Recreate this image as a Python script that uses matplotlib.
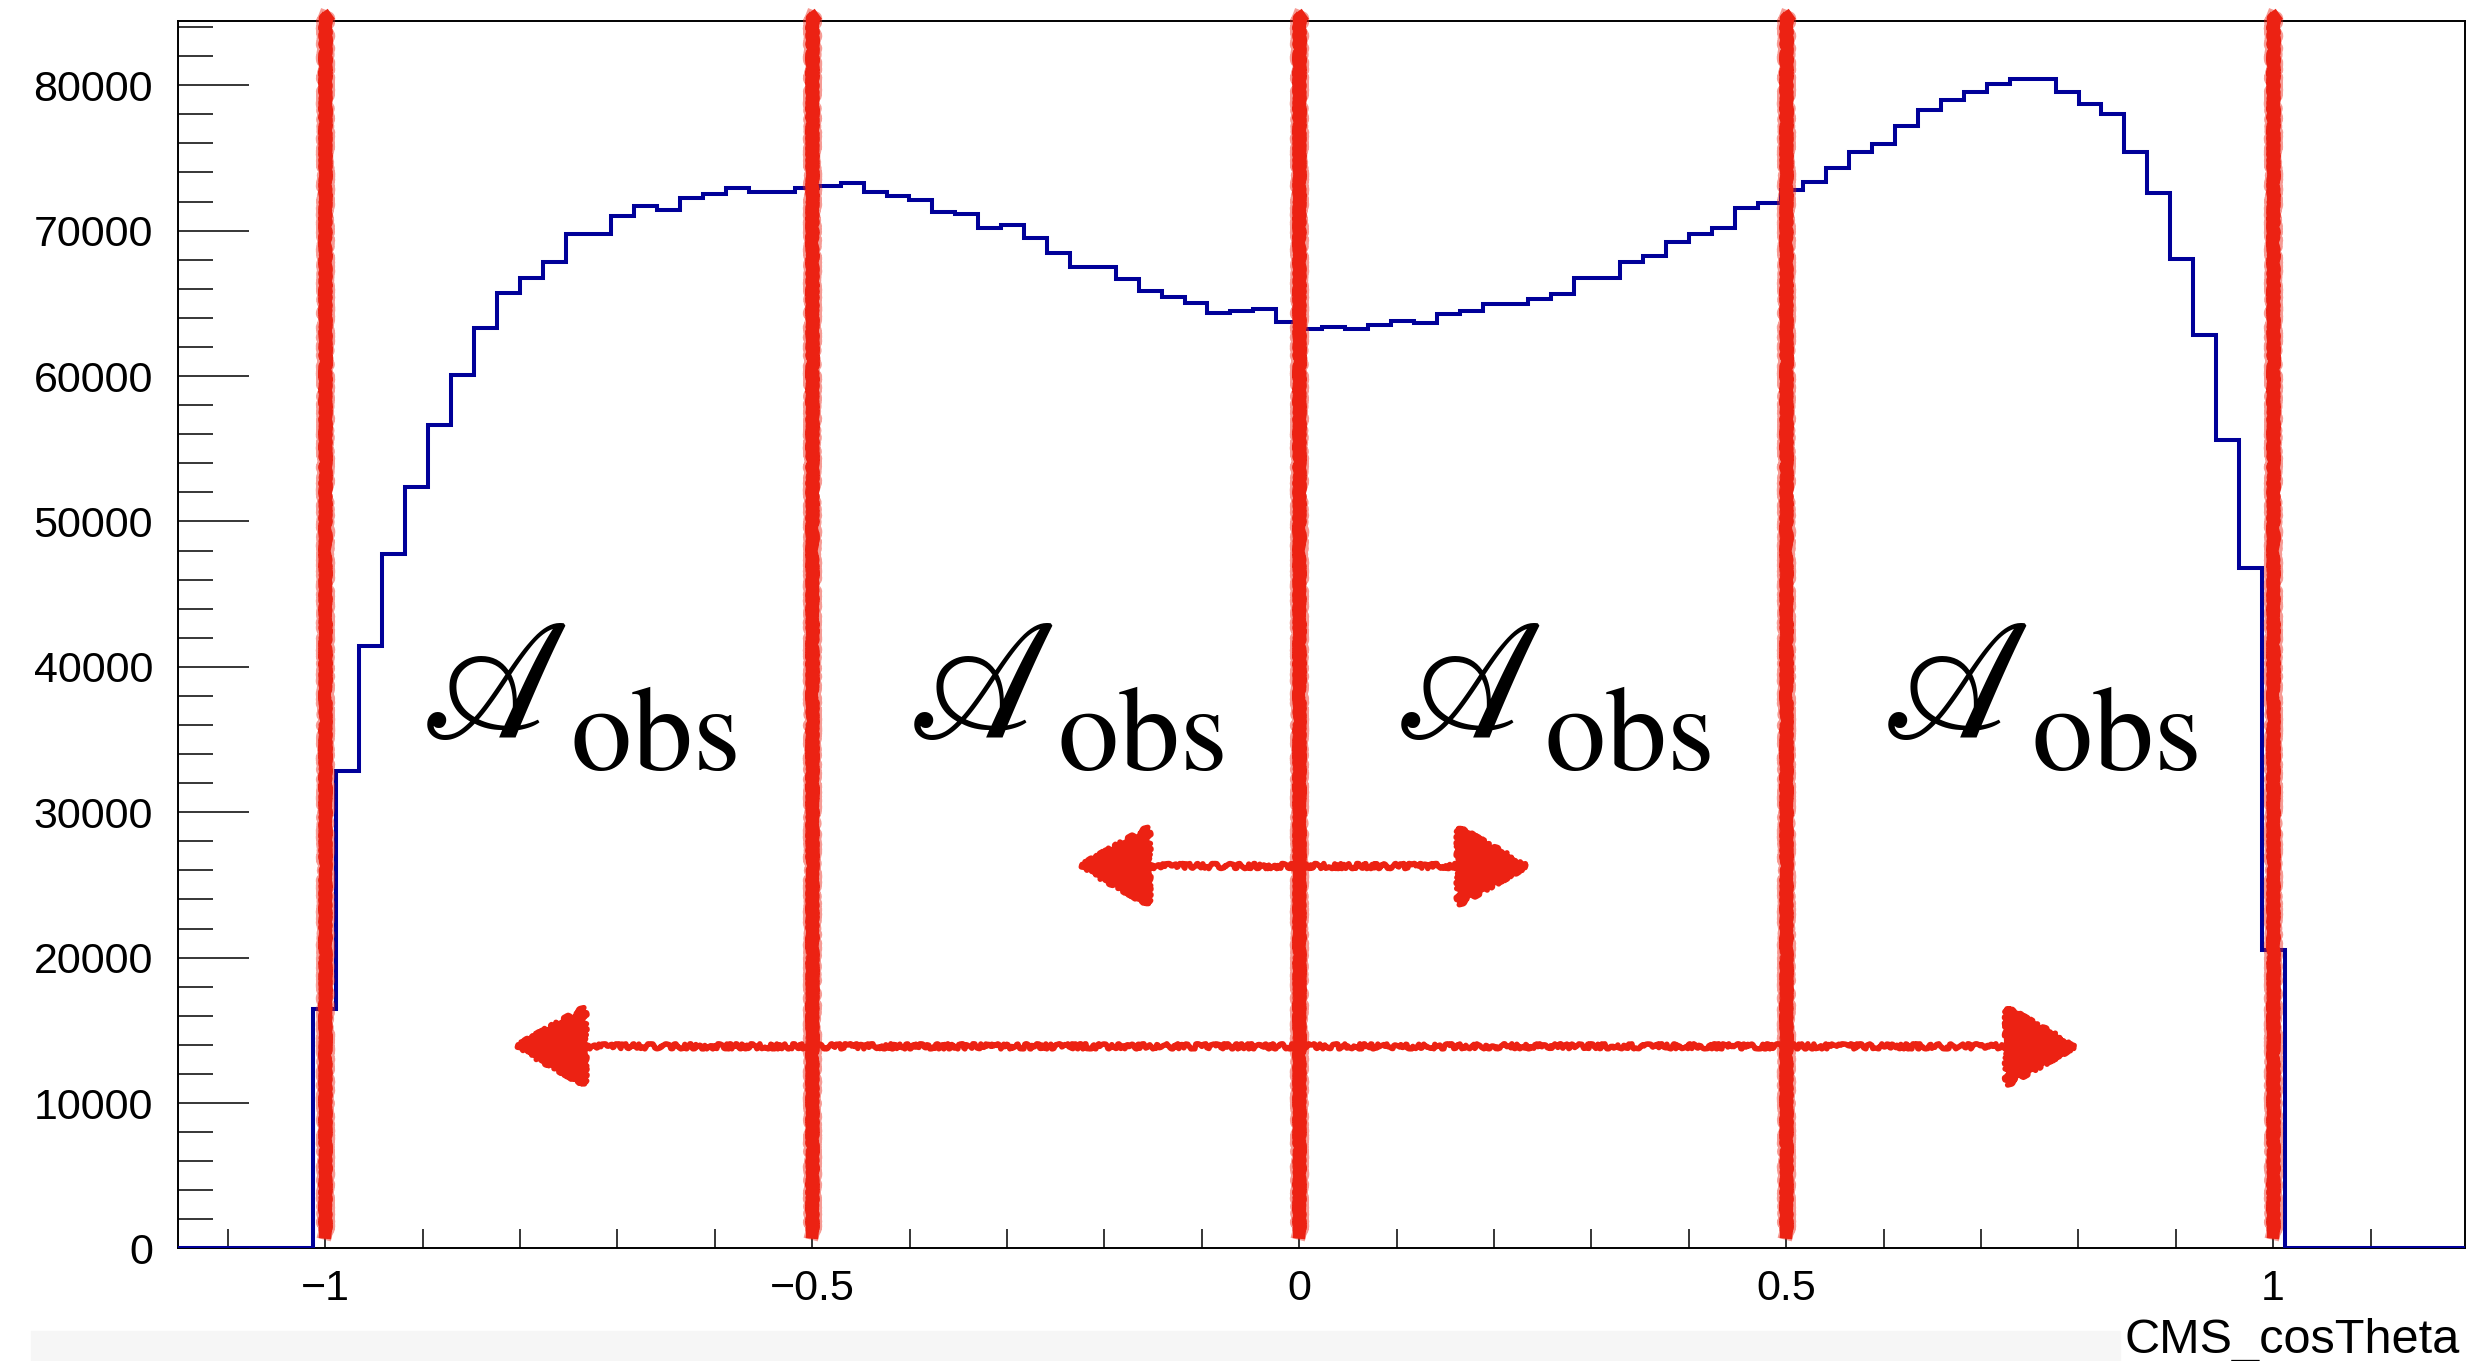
import numpy as np
import matplotlib.pyplot as plt
from matplotlib.patches import Rectangle
from matplotlib.ticker import MultipleLocator

# bin contents of CMS_cosTheta (86 bins)
counts = [16450, 32830, 41400, 47740, 52400, 56610, 60080, 63330, 65690, 66770,
          67870, 69770, 69770, 71040, 71720, 71420, 72270, 72520, 72960, 72660,
          72660, 72910, 73060, 73280, 72660, 72390, 72110, 71290, 71170, 70210,
          70370, 69520, 68440, 67480, 67480, 66660, 65850, 65420, 65000, 64320,
          64500, 64640, 63740, 63220, 63380, 63240, 63490, 63770, 63630, 64290,
          64450, 64980, 64980, 65280, 65670, 66770, 66770, 67870, 68280, 69240,
          69790, 70210, 71580, 71930, 72800, 73320, 74290, 75390, 75940, 77180,
          78300, 78970, 79540, 80070, 80450, 80450, 79540, 78690, 78030, 75390,
          72570, 68030, 62850, 55610, 46810, 20500]
hist_lo, hist_hi = -1.012, 1.012
x_min, x_max = -1.151, 1.197
y_max = 84420

# hand drawn annotations
boundaries = [-1.0, -0.5, 0.0, 0.5, 1.0]
script_y = 35150   # baseline of the script A
sub_y = 32900      # baseline of "obs"
short_arrow = (-0.229, 0.238, 26300)
long_arrow = (-0.808, 0.801, 13900)

red = '#ec2213'
blue = '#000099'

plt.rcParams['font.family'] = ['Liberation Sans', 'DejaVu Sans']

fig = plt.figure(figsize=(24.7, 13.61), dpi=100)
ax = fig.add_axes([0.0721, 0.0827, 0.998 - 0.0721, 0.9846 - 0.0827])

# histogram, with empty bins out to the frame edges
edges = np.linspace(hist_lo, hist_hi, len(counts) + 1)
all_edges = np.concatenate([[x_min], edges, [x_max]])
all_counts = np.concatenate([[0], counts, [0]])
ax.stairs(all_counts, all_edges, baseline=None, color=blue, lw=2.9, zorder=3)

# chalky red boundaries
for b in boundaries:
    ln = ax.axvline(b, ymin=0.013, ymax=1.0035, color=red, lw=9,
                    clip_on=False, zorder=4)
    ln.set_sketch_params(scale=1.2, length=6, randomness=12)
    for w, a in [(10.5, 0.45), (6, 0.9)]:
        ln2 = ax.axvline(b, ymin=0.013, ymax=1.0035, color=red, lw=w, alpha=a,
                         clip_on=False, zorder=4)
        ln2.set_sketch_params(scale=2.5, length=3, randomness=20)

for x0, x1, y in [short_arrow, long_arrow]:
    an = ax.annotate('', xy=(x1, y), xytext=(x0, y),
                     arrowprops=dict(arrowstyle='<|-|>,head_length=2.4,head_width=1.35',
                                     mutation_scale=20, color=red, lw=4,
                                     shrinkA=0, shrinkB=0, joinstyle='round'),
                     zorder=5)
    an.arrow_patch.set_sketch_params(scale=2.5, length=8, randomness=10)

# A_obs labels, one per region
for lo, hi in zip(boundaries[:-1], boundaries[1:]):
    c = (lo + hi) / 2 + 0.01
    ax.annotate(r'$\mathscr{A}$', xy=(c, script_y), xytext=(-9, 0),
                textcoords='offset points', fontsize=122, ha='right',
                va='baseline', math_fontfamily='stix', zorder=6)
    ax.annotate(r'$\mathrm{obs}$', xy=(c, sub_y), xytext=(-6, 0),
                textcoords='offset points', fontsize=88, ha='left',
                va='baseline', math_fontfamily='stix', zorder=6)

ax.set_xlim(x_min, x_max)
ax.set_ylim(0, y_max)
ax.xaxis.set_minor_locator(MultipleLocator(0.1))
ax.yaxis.set_major_locator(MultipleLocator(10000))
ax.yaxis.set_minor_locator(MultipleLocator(2000))
ax.set_xticks([-1, -0.5, 0, 0.5, 1])
ax.set_xticklabels(['\u22121', '\u22120.5', '0', '0.5', '1'])
ax.tick_params(axis='x', which='both', direction='in', length=13.7, width=1.1,
               labelsize=31, pad=15, top=False)
ax.tick_params(axis='y', which='major', direction='in', length=50.8, width=1.1,
               labelsize=31, pad=18, right=False)
ax.tick_params(axis='y', which='minor', direction='in', length=25.4, width=1.1,
               right=False)
for s in ax.spines.values():
    s.set_linewidth(1.4)

fig.patches.append(Rectangle((31 / 2470, 0), (2120 - 31) / 2470, 30 / 1361,
                             transform=fig.transFigure, color='#f6f6f6', zorder=-1))
fig.text(0.996, 0.0059, 'CMS_cosTheta', fontsize=35, ha='right', va='baseline')

fig.savefig('out.png', dpi=100)
